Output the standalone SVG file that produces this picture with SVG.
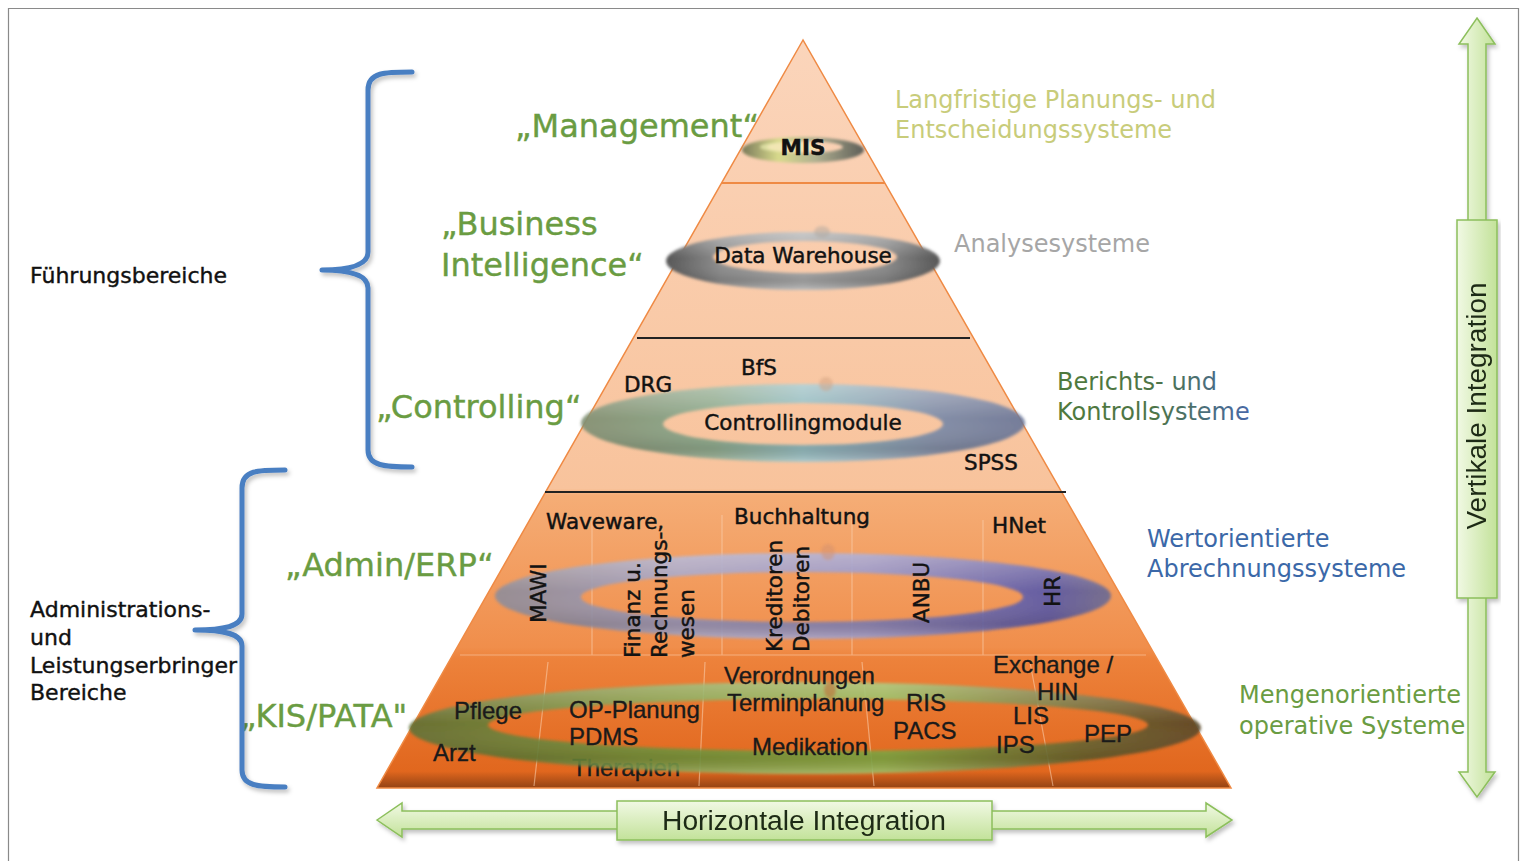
<svg xmlns="http://www.w3.org/2000/svg" width="1524" height="861" viewBox="0 0 1524 861">
<defs>
<style>
.t{font-family:"DejaVu Sans","Liberation Sans",sans-serif;font-size:21.5px;fill:#121212;stroke:#121212;stroke-width:0.45}
.k{font-family:"Liberation Sans",Arial,sans-serif;font-size:24px;fill:#1a1a1a;stroke:#1a1a1a;stroke-width:0.35}
.g{font-family:"DejaVu Sans","Liberation Sans",sans-serif;font-size:32px;fill:#6a9c42;stroke:#6a9c42;stroke-width:0.4}
.l{font-family:"DejaVu Sans","Liberation Sans",sans-serif;font-size:22px;fill:#111;stroke:#111;stroke-width:0.4}
.r{font-family:"DejaVu Sans","Liberation Sans",sans-serif;font-size:24px}
.ai{font-family:"Liberation Sans",Arial,sans-serif;font-size:27px;fill:#1e2a14}
.brace{fill:none;stroke:#4a7fc2;stroke-width:5;stroke-linecap:round;stroke-linejoin:round}
.grid{stroke:#fbd2b2;stroke-width:1.2;opacity:0.55;fill:none}
.arrow{stroke:#8cbf5c;stroke-width:1.5}
</style>
<linearGradient id="pyr" gradientUnits="userSpaceOnUse" x1="0" y1="40" x2="0" y2="790">
<stop offset="0" stop-color="#fbd5bb"/>
<stop offset="0.598" stop-color="#f8c39c"/>
<stop offset="0.607" stop-color="#f5ad76"/>
<stop offset="0.81" stop-color="#f08e4b"/>
<stop offset="0.825" stop-color="#ed823b"/>
<stop offset="0.975" stop-color="#e1671e"/>
<stop offset="1" stop-color="#8a3e12"/>
</linearGradient>
<linearGradient id="gMIS" x1="0" y1="0" x2="1" y2="0">
<stop offset="0" stop-color="#7a7a5a"/><stop offset="0.3" stop-color="#d8da8c"/><stop offset="0.6" stop-color="#b0b090"/><stop offset="1" stop-color="#5e5e58"/>
</linearGradient>
<linearGradient id="gDW" x1="0" y1="0" x2="1" y2="0">
<stop offset="0" stop-color="#555"/><stop offset="0.2" stop-color="#8d8d8d"/><stop offset="0.5" stop-color="#ababab"/><stop offset="0.8" stop-color="#8a8a8a"/><stop offset="1" stop-color="#555"/>
</linearGradient>
<linearGradient id="gCT" x1="0" y1="0" x2="1" y2="0">
<stop offset="0" stop-color="#7f8f72"/><stop offset="0.3" stop-color="#86a88c"/><stop offset="0.5" stop-color="#8cbcc4"/><stop offset="0.8" stop-color="#7a8aa8"/><stop offset="1" stop-color="#6a7698"/>
</linearGradient>
<linearGradient id="gAD" x1="0" y1="0" x2="1" y2="0">
<stop offset="0" stop-color="#8e8c98"/><stop offset="0.3" stop-color="#9c9cc2"/><stop offset="0.6" stop-color="#8a8ac4"/><stop offset="0.9" stop-color="#5656a8"/><stop offset="1" stop-color="#6a6a92"/>
</linearGradient>
<linearGradient id="gKI" x1="0" y1="0" x2="1" y2="0">
<stop offset="0" stop-color="#5e7034"/><stop offset="0.3" stop-color="#74983c"/><stop offset="0.6" stop-color="#86b446"/><stop offset="0.85" stop-color="#66642e"/><stop offset="1" stop-color="#584626"/>
</linearGradient>
<linearGradient id="shade" x1="0" y1="0" x2="0" y2="1">
<stop offset="0" stop-color="#fff" stop-opacity="0.35"/><stop offset="0.45" stop-color="#fff" stop-opacity="0"/><stop offset="0.82" stop-color="#000" stop-opacity="0.12"/><stop offset="1" stop-color="#fff" stop-opacity="0.25"/>
</linearGradient>
<linearGradient id="agH" x1="0" y1="0" x2="0" y2="1">
<stop offset="0" stop-color="#f1f9e4"/><stop offset="1" stop-color="#c3e29a"/>
</linearGradient>
<linearGradient id="agV" x1="0" y1="0" x2="1" y2="0">
<stop offset="0" stop-color="#f1f9e4"/><stop offset="1" stop-color="#c3e29a"/>
</linearGradient>
<linearGradient id="ber" gradientUnits="userSpaceOnUse" x1="1057" y1="0" x2="1255" y2="0">
<stop offset="0" stop-color="#4f7a3c"/><stop offset="0.5" stop-color="#4d7448"/><stop offset="1" stop-color="#4868ac"/>
</linearGradient>
<filter id="blur" x="-10%" y="-60%" width="120%" height="220%"><feGaussianBlur stdDeviation="1.6"/></filter>
<filter id="sh" x="-10%" y="-20%" width="120%" height="150%"><feDropShadow dx="2" dy="3" stdDeviation="2" flood-color="#000" flood-opacity="0.25"/></filter>
</defs>

<rect width="1524" height="861" fill="#fff"/>
<path d="M8.5,861 V8.5 H1518.5 V861" fill="none" stroke="#8a8a8a" stroke-width="1.2"/>

<g id="pyramid">
<polygon points="803,40 377,788 1231,788" fill="url(#pyr)" stroke="#ef8a44" stroke-width="1.5"/>
<line x1="722" y1="183" x2="885" y2="183" stroke="#ef8a44" stroke-width="2"/>
<line x1="637" y1="338" x2="970" y2="338" stroke="#222" stroke-width="2"/>
<line x1="545" y1="492" x2="1066" y2="492" stroke="#222" stroke-width="2.2"/>
<g class="grid">
<line x1="592" y1="520" x2="592" y2="655"/>
<line x1="722" y1="515" x2="722" y2="655"/>
<line x1="852" y1="515" x2="852" y2="655"/>
<line x1="983" y1="520" x2="983" y2="655"/>
<line x1="460" y1="655" x2="1146" y2="655"/>
<line x1="548" y1="662" x2="534" y2="786"/>
<line x1="705" y1="662" x2="699" y2="786"/>
<line x1="862" y1="662" x2="874" y2="786"/>
<line x1="1030" y1="662" x2="1053" y2="786"/>
</g>
</g>

<g id="text-behind">
<text class="k" x="572" y="776">Therapien</text>
</g>

<g id="rings">
<g id="ring-mis" filter="url(#blur)">
<path fill-rule="evenodd" fill="url(#gMIS)" d="M742,150 A61,13 0 1 0 864,150 A61,13 0 1 0 742,150Z M767,147 A38,6 0 1 0 843,147 A38,6 0 1 0 767,147Z"/>
<ellipse cx="790" cy="147" rx="30" ry="5" fill="#eef0b4" opacity="0.7"/>
</g>
<g id="ring-dw" filter="url(#blur)">
<path fill-rule="evenodd" fill="url(#gDW)" d="M666,261 A137,29 0 1 0 940,261 A137,29 0 1 0 666,261Z M713,257 A92,16 0 1 0 897,257 A92,16 0 1 0 713,257Z"/>
<path fill-rule="evenodd" fill="url(#shade)" d="M666,261 A137,29 0 1 0 940,261 A137,29 0 1 0 666,261Z M713,257 A92,16 0 1 0 897,257 A92,16 0 1 0 713,257Z"/>
<ellipse cx="822" cy="232" rx="8" ry="6" fill="#b0a8a0" opacity="0.5"/>
</g>
<g id="ring-ct" filter="url(#blur)" opacity="0.92">
<path fill-rule="evenodd" fill="url(#gCT)" d="M581,423 A222,39 0 1 0 1025,423 A222,39 0 1 0 581,423Z M663,424 A140,21 0 1 0 943,424 A140,21 0 1 0 663,424Z"/>
<path fill-rule="evenodd" fill="url(#shade)" d="M581,423 A222,39 0 1 0 1025,423 A222,39 0 1 0 581,423Z M663,424 A140,21 0 1 0 943,424 A140,21 0 1 0 663,424Z"/>
<ellipse cx="826" cy="384" rx="7" ry="7" fill="#d0a080" opacity="0.5"/>
</g>
<g id="ring-ad" filter="url(#blur)" opacity="0.9">
<path fill-rule="evenodd" fill="url(#gAD)" d="M495,596 A308,43 0 1 0 1111,596 A308,43 0 1 0 495,596Z M581,597 A221,25 0 1 0 1023,597 A221,25 0 1 0 581,597Z"/>
<path fill-rule="evenodd" fill="url(#shade)" d="M495,596 A308,43 0 1 0 1111,596 A308,43 0 1 0 495,596Z M581,597 A221,25 0 1 0 1023,597 A221,25 0 1 0 581,597Z"/>
<ellipse cx="828" cy="552" rx="7" ry="8" fill="#d09070" opacity="0.5"/>
</g>
<g id="ring-ki" filter="url(#blur)" opacity="0.9">
<path fill-rule="evenodd" fill="url(#gKI)" d="M409,728 A396,46 0 1 0 1201,728 A396,46 0 1 0 409,728Z M488,725 A330,26 0 1 0 1148,725 A330,26 0 1 0 488,725Z"/>
<path fill-rule="evenodd" fill="url(#shade)" d="M409,728 A396,46 0 1 0 1201,728 A396,46 0 1 0 409,728Z M488,725 A330,26 0 1 0 1148,725 A330,26 0 1 0 488,725Z"/>
<ellipse cx="830" cy="690" rx="6" ry="8" fill="#c06030" opacity="0.5"/>
</g>
</g>

<g id="layer-management">
<text class="g" x="515" y="137">„Management“</text>
<text class="t" x="803" y="155" text-anchor="middle" font-weight="bold" font-size="20">MIS</text>
<text class="r" x="895" y="108" fill="#c8cc7a">Langfristige Planungs- und</text>
<text class="r" x="895" y="138" fill="#c8cc7a">Entscheidungssysteme</text>
</g>

<g id="layer-bi">
<text class="g" x="441" y="235">„Business</text>
<text class="g" x="441" y="276">Intelligence“</text>
<text class="t" x="803" y="263" text-anchor="middle">Data Warehouse</text>
<text class="r" x="954" y="252" fill="#a6a6a6">Analysesysteme</text>
</g>

<g id="layer-controlling">
<text class="g" x="376" y="418">„Controlling“</text>
<text class="t" x="624" y="392">DRG</text>
<text class="t" x="741" y="375">BfS</text>
<text class="t" x="803" y="430" text-anchor="middle" font-size="22">Controllingmodule</text>
<text class="t" x="964" y="470">SPSS</text>
<text class="r" x="1057" y="390" fill="url(#ber)">Berichts- und</text>
<text class="r" x="1057" y="420" fill="url(#ber)">Kontrollsysteme</text>
</g>

<g id="layer-admin">
<text class="g" x="285" y="576">„Admin/ERP“</text>
<text class="t" x="546" y="529">Waveware,</text>
<text class="t" x="734" y="524">Buchhaltung</text>
<text class="t" x="992" y="533">HNet</text>
<text class="t" transform="translate(546,623) rotate(-90)">MAWI</text>
<text class="t" transform="translate(640,658) rotate(-90)">Finanz u.</text>
<text class="t" transform="translate(667,658) rotate(-90)">Rechnungs-</text>
<text class="t" transform="translate(694,658) rotate(-90)">wesen</text>
<text class="t" transform="translate(782,652) rotate(-90)">Kreditoren</text>
<text class="t" transform="translate(809,652) rotate(-90)">Debitoren</text>
<text class="t" transform="translate(929,623) rotate(-90)">ANBU</text>
<text class="t" transform="translate(1060,607) rotate(-90)" fill="#2a2a80" stroke="#2a2a80">HR</text>
<text class="r" x="1147" y="547" fill="#3b68a8">Wertorientierte</text>
<text class="r" x="1147" y="577" fill="#3b68a8">Abrechnungssysteme</text>
</g>

<g id="layer-kis">
<text class="g" x="240" y="727">„KIS/PATA&quot;</text>
<text class="k" x="454" y="719">Pflege</text>
<text class="k" x="433" y="761">Arzt</text>
<text class="k" x="569" y="718">OP-Planung</text>
<text class="k" x="569" y="745">PDMS</text>
<text class="k" x="724" y="684">Verordnungen</text>
<text class="k" x="727" y="711">Terminplanung</text>
<text class="k" x="906" y="711">RIS</text>
<text class="k" x="893" y="739">PACS</text>
<text class="k" x="752" y="755">Medikation</text>
<text class="k" x="993" y="673" font-size="23">Exchange /</text>
<text class="k" x="1037" y="700" font-size="22">HIN</text>
<text class="k" x="1013" y="724" font-size="23">LIS</text>
<text class="k" x="996" y="753">IPS</text>
<text class="k" x="1084" y="742" font-size="21">PEP</text>
<text class="r" x="1239" y="703" fill="#6a9c42">Mengenorientierte</text>
<text class="r" x="1239" y="734" fill="#6a9c42">operative Systeme</text>
</g>

<g id="fuehrung">
<text class="l" x="30" y="283">Führungsbereiche</text>
</g>
<g id="admin-bereiche">
<text class="l" x="30" y="617">Administrations-</text>
<text class="l" x="30" y="645">und</text>
<text class="l" x="30" y="673">Leistungserbringer</text>
<text class="l" x="30" y="700">Bereiche</text>
</g>

<g id="connectors">
<path class="brace" filter="url(#sh)" d="M412,72 C385,72 368,72 368,90 L368,252 C368,265 350,270 322,270 C350,270 368,275 368,288 L368,450 C368,466 385,467 412,467"/>
<path class="brace" filter="url(#sh)" d="M285,470 C258,470 242,470 242,488 L242,614 C242,626 225,630 195,630 C225,630 242,634 242,646 L242,770 C242,786 258,787 285,787"/>
</g>

<g id="horizontal-integration" filter="url(#sh)">
<polygon class="arrow" fill="url(#agH)" points="377,820 402,803 402,811 1206,811 1206,803 1232,820 1206,837 1206,829 402,829 402,837"/>
<rect class="arrow" x="617" y="801" width="375" height="39" fill="url(#agH)"/>
<text class="ai" x="804" y="830" text-anchor="middle" textLength="284" lengthAdjust="spacingAndGlyphs">Horizontale Integration</text>
</g>

<g id="vertical-integration" filter="url(#sh)">
<polygon class="arrow" fill="url(#agV)" points="1477,18 1495,44 1486,44 1486,772 1495,772 1477,797 1459,772 1468,772 1468,44 1459,44"/>
<rect class="arrow" x="1457" y="220" width="40" height="378" fill="url(#agV)"/>
<text class="ai" transform="translate(1486,406) rotate(-90)" text-anchor="middle" textLength="247" lengthAdjust="spacingAndGlyphs">Vertikale Integration</text>
</g>
</svg>
